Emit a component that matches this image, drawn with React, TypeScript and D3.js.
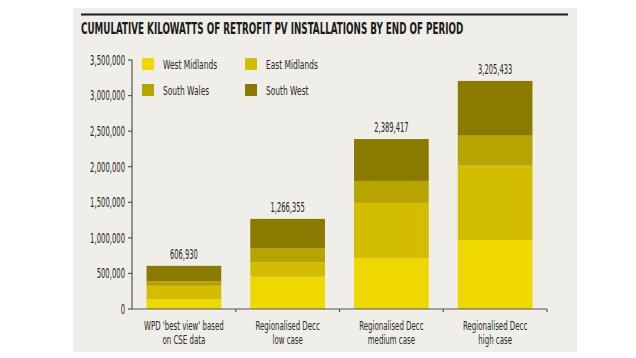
import React, { useEffect, useRef, useState } from "react";
import * as d3 from "d3";

const categories = [
  ["WPD 'best view' based", "on CSE data"],
  ["Regionalised Decc", "low case"],
  ["Regionalised Decc", "medium case"],
  ["Regionalised Decc", "high case"],
];
const totals = [606930, 1266355, 2389417, 3205433];
const seriesNames = ["West Midlands", "East Midlands", "South Wales", "South West"];
const westMidlands = [137000, 454000, 713000, 970000];
const eastMidlands = [188000, 203000, 778000, 1045000];
const southWales = [62000, 197000, 309000, 422000];
const southWest = [219930, 412355, 589417, 768433];
const yTicks = [0, 500000, 1000000, 1500000, 2000000, 2500000, 3000000, 3500000];
const colors = ["#efd800", "#d3bd00", "#b6a400", "#8a7b00"];
const title = "CUMULATIVE KILOWATTS OF RETROFIT PV INSTALLATIONS BY END OF PERIOD";

const W = 636;
const H = 358;
const FONT = "'DejaVu Sans Condensed', 'DejaVu Sans', sans-serif";

function CText({ x, y, s = 0.6, anchor = "start", size = 13.5, weight = "normal", fill = "#2a2a2a", children }: any) {
  return (
    <text
      transform={`translate(${x},${y}) scale(${s},1)`}
      textAnchor={anchor}
      fontSize={size}
      fontWeight={weight}
      fill={fill}
    >
      {children}
    </text>
  );
}

export default function App() {
  const titleRef = useRef<SVGTextElement>(null);
  const [titleScale, setTitleScale] = useState(0.62);
  useEffect(() => {
    if (titleRef.current) {
      const w = titleRef.current.getComputedTextLength();
      if (w > 0) setTitleScale(382 / w);
    }
  }, []);

  const x0 = 132, x1 = 547, yBottom = 309;
  const y = d3.scaleLinear().domain([0, 3500000]).range([yBottom, 60]);
  const x = d3.scaleBand<number>().domain(d3.range(categories.length)).range([x0, x1]).paddingInner(0.28).paddingOuter(0.14);
  const rows = categories.map((_, i) => ({
    i,
    "West Midlands": westMidlands[i],
    "East Midlands": eastMidlands[i],
    "South Wales": southWales[i],
    "South West": southWest[i],
  }));
  const stack = d3.stack<any>().keys(seriesNames)(rows);
  const step = (x1 - x0) / categories.length;
  const fmt = d3.format(",");
  const cx = (i: number) => (x(i) as number) + x.bandwidth() / 2;

  return (
    <svg width={W} height={H} style={{ position: "absolute", left: 0, top: 0 }} fontFamily={FONT}>
      <rect x={0} y={0} width={W} height={H} fill="#ffffff" />
      <rect x={73} y={8} width={504} height={344} fill="#efeee8" />
      <line x1={81} x2={568} y1={14.5} y2={14.5} stroke="#1a1a1a" strokeWidth={2} />
      <text
        ref={titleRef}
        transform={`translate(81,33.5) scale(${titleScale},1)`}
        fontSize={15.5}
        fontWeight="bold"
        fill="#1a1a1a"
      >
        {title}
      </text>

      {/* legend */}
      {seriesNames.map((s, k) => {
        const col = k % 2, row = Math.floor(k / 2);
        const lx = 142 + col * 103;
        const ly = 58 + row * 26;
        return (
          <g key={s}>
            <rect x={lx} y={ly} width={12} height={12} fill={colors[k]} />
            <CText x={lx + 21} y={ly + 10.5} s={0.64} size={13}>{s}</CText>
          </g>
        );
      })}

      {/* bars */}
      {stack.map((layer, k) => (
        <g key={k} fill={colors[k]}>
          {layer.map((d, i) => (
            <rect key={i} x={x(i)} width={x.bandwidth()} y={y(d[1])} height={y(d[0]) - y(d[1])} />
          ))}
        </g>
      ))}

      {/* value labels */}
      {totals.map((t, i) => (
        <CText key={i} x={cx(i)} y={y(t) - 7} anchor="middle" s={0.555}>{fmt(t)}</CText>
      ))}

      {/* y axis */}
      <line x1={x0} x2={x0} y1={y(3500000)} y2={yBottom} stroke="#555" strokeWidth={1.2} />
      {yTicks.map((t) => (
        <g key={t}>
          <line x1={x0 - 4} x2={x0} y1={y(t)} y2={y(t)} stroke="#555" strokeWidth={1.2} />
          <CText x={x0 - 7} y={y(t) + 4.8} anchor="end" s={0.565}>{fmt(t)}</CText>
        </g>
      ))}

      {/* x axis */}
      <line x1={x0} x2={x1} y1={yBottom} y2={yBottom} stroke="#555" strokeWidth={1.2} />
      {d3.range(1, categories.length + 1).map((k) => (
        <line key={k} x1={x0 + k * step} x2={x0 + k * step} y1={yBottom} y2={yBottom + 3} stroke="#555" strokeWidth={1.2} />
      ))}
      {categories.map((c, i) => (
        <g key={i}>
          <CText x={cx(i)} y={329.5} anchor="middle" size={12.5} s={0.625}>{c[0]}</CText>
          <CText x={cx(i)} y={343.5} anchor="middle" size={12.5} s={0.625}>{c[1]}</CText>
        </g>
      ))}
    </svg>
  );
}
